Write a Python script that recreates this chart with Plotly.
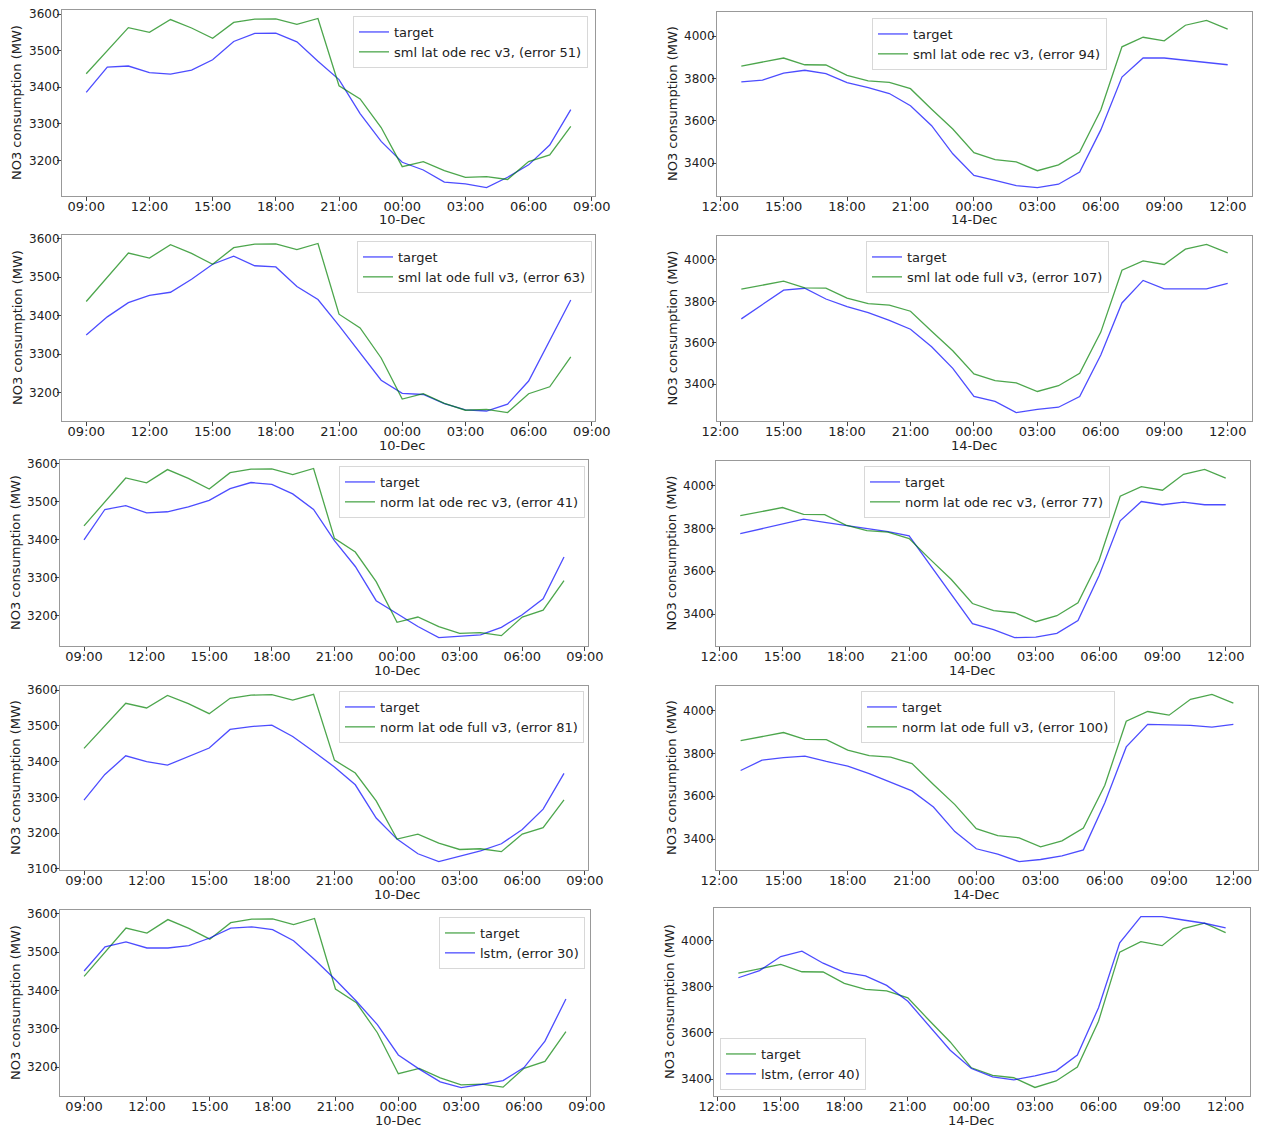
import pandas as pd
import plotly.graph_objects as go

W, H = 1261, 1130

# Hourly windows shown in the two columns
left_times = pd.date_range("2018-12-09 09:00", periods=24, freq="h")
right_times = pd.date_range("2018-12-13 13:00", periods=24, freq="h")

left_tickvals = pd.date_range("2018-12-09 09:00", "2018-12-10 09:00", freq="3h")
left_ticktext = ["09:00", "12:00", "15:00", "18:00", "21:00",
                 "00:00", "03:00", "06:00", "09:00"]
right_tickvals = pd.date_range("2018-12-13 12:00", "2018-12-14 12:00", freq="3h")
right_ticktext = ["12:00", "15:00", "18:00", "21:00",
                  "00:00", "03:00", "06:00", "09:00", "12:00"]
left_day = (pd.Timestamp("2018-12-10 00:00"), "10-Dec")
right_day = (pd.Timestamp("2018-12-14 00:00"), "14-Dec")
y_title = "NO3 consumption (MW)"

# Green series (same in every panel of a column)
green_left = [3437, 3500, 3563, 3550, 3585, 3562, 3534, 3577, 3586, 3587, 3572, 3588,
              3404, 3368, 3290, 3183, 3197, 3172, 3154, 3156, 3148, 3197, 3215, 3293]
green_right = [3859, 3878, 3897, 3865, 3864, 3815, 3789, 3782, 3752, 3655, 3561, 3449,
               3416, 3406, 3364, 3392, 3452, 3651, 3950, 3995, 3978, 4052, 4075, 4034]

# Blue series, one per panel
sml_rec_left = [3386, 3455, 3458, 3440, 3436, 3447, 3475, 3525, 3547, 3548, 3524, 3471,
                3421, 3328, 3252, 3195, 3174, 3141, 3136, 3126, 3154, 3188, 3242, 3339]
sml_rec_right = [3784, 3792, 3825, 3839, 3823, 3781, 3757, 3729, 3671, 3577, 3444, 3342,
                 3318, 3293, 3284, 3300, 3358, 3557, 3807, 3897, 3897, 3887, 3875, 3865]
sml_full_left = [3350, 3397, 3434, 3453, 3461, 3495, 3534, 3555, 3530, 3527, 3476, 3442,
                 3374, 3303, 3232, 3198, 3195, 3171, 3155, 3152, 3170, 3230, 3335, 3441]
sml_full_right = [3715, 3783, 3854, 3863, 3811, 3774, 3745, 3708, 3665, 3580, 3476, 3340,
                  3316, 3262, 3278, 3288, 3340, 3540, 3792, 3901, 3860, 3860, 3860, 3887]
norm_rec_left = [3400, 3480, 3490, 3471, 3474, 3487, 3504, 3535, 3551, 3546, 3521, 3480,
                 3398, 3330, 3240, 3205, 3172, 3143, 3146, 3150, 3170, 3203, 3245, 3355]
norm_rec_right = [3775, 3798, 3822, 3843, 3828, 3813, 3800, 3785, 3765, 3630, 3495, 3355,
                  3327, 3290, 3292, 3310, 3370, 3580, 3835, 3925, 3910, 3922, 3910, 3910]
norm_full_left = [3292, 3364, 3416, 3400, 3390, 3413, 3438, 3490, 3498, 3502, 3470, 3428,
                  3385, 3335, 3242, 3183, 3142, 3120, 3136, 3150, 3170, 3210, 3267, 3367]
norm_full_right = [3720, 3768, 3780, 3787, 3762, 3740, 3705, 3665, 3625, 3550, 3435, 3355,
                   3330, 3295, 3305, 3322, 3350, 3570, 3830, 3935, 3932, 3930, 3922, 3935]
lstm_left = [3451, 3514, 3527, 3511, 3511, 3517, 3537, 3563, 3566, 3559, 3530, 3481,
             3428, 3372, 3311, 3232, 3195, 3162, 3147, 3155, 3165, 3199, 3268, 3378]
lstm_right = [3839, 3870, 3931, 3954, 3902, 3862, 3847, 3806, 3737, 3629, 3525, 3446,
              3410, 3397, 3414, 3436, 3504, 3709, 3990, 4104, 4104, 4089, 4075, 4055]

BLUE = "rgba(0,0,255,0.7)"
GREEN = "rgba(0,128,0,0.7)"
FONT = "DejaVu Sans"
TXT = "#222"

# (side, blue series, legend entries in order, plot box px, legend anchor px)
panels = [
    ("L", sml_rec_left, [("b", "target"), ("g", "sml lat ode rec v3, (error 51)")],
     (62, 10, 595, 196), (588, 16, "right")),
    ("R", sml_rec_right, [("b", "target"), ("g", "sml lat ode rec v3, (error 94)")],
     (717, 12, 1252, 196), (872, 18, "left")),
    ("L", sml_full_left, [("b", "target"), ("g", "sml lat ode full v3, (error 63)")],
     (62, 235, 595, 421), (592, 241, "right")),
    ("R", sml_full_right, [("b", "target"), ("g", "sml lat ode full v3, (error 107)")],
     (717, 236, 1252, 421), (866, 241, "left")),
    ("L", norm_rec_left, [("b", "target"), ("g", "norm lat ode rec v3, (error 41)")],
     (60, 460, 588, 646), (585, 466, "right")),
    ("R", norm_rec_right, [("b", "target"), ("g", "norm lat ode rec v3, (error 77)")],
     (716, 461, 1250, 646), (864, 466, "left")),
    ("L", norm_full_left, [("b", "target"), ("g", "norm lat ode full v3, (error 81)")],
     (60, 686, 588, 870), (584, 691, "right")),
    ("R", norm_full_right, [("b", "target"), ("g", "norm lat ode full v3, (error 100)")],
     (716, 686, 1258, 870), (861, 691, "left")),
    ("L", lstm_left, [("g", "target"), ("b", "lstm, (error 30)")],
     (60, 910, 590, 1096), (585, 917, "right")),
    ("R", lstm_right, [("g", "target"), ("b", "lstm, (error 40)")],
     (714, 908, 1250, 1096), (720, 1090, "left_bottom")),
]

fig = go.Figure()
layout = dict(
    width=W, height=H, margin=dict(l=0, r=0, t=0, b=0, autoexpand=False),
    paper_bgcolor="white", plot_bgcolor="white",
    font=dict(family=FONT, size=13, color=TXT),
    showlegend=True,
)
annotations = []

for i, (side, blue, entries, box, leg) in enumerate(panels, start=1):
    times = left_times if side == "L" else right_times
    green = green_left if side == "L" else green_right
    xs = "x" if i == 1 else f"x{i}"
    ys = "y" if i == 1 else f"y{i}"
    lg = "legend" if i == 1 else f"legend{i}"
    for kind, name in entries:
        vals = blue if kind == "b" else green
        color = BLUE if kind == "b" else GREEN
        fig.add_trace(go.Scatter(
            x=times, y=vals, mode="lines", name=name,
            line=dict(color=color, width=1.3),
            xaxis=xs, yaxis=ys, legend=lg,
        ))

    # autoscale with 5% padding on both axes
    lo, hi = min(min(blue), min(green)), max(max(blue), max(green))
    pad = 0.05 * (hi - lo)
    span = times[-1] - times[0]
    xr = [times[0] - 0.05 * span, times[-1] + 0.05 * span]

    x0, y0, x1, y1 = box
    xkey = "xaxis" if i == 1 else f"xaxis{i}"
    ykey = "yaxis" if i == 1 else f"yaxis{i}"
    layout[xkey] = dict(
        domain=[x0 / W, x1 / W], anchor=ys, type="date", range=xr,
        tickmode="array",
        tickvals=list(left_tickvals if side == "L" else right_tickvals),
        ticktext=left_ticktext if side == "L" else right_ticktext,
        ticks="outside", ticklen=4, tickcolor="#444",
        ticklabelstandoff=-6,
        showline=True, linecolor="#999", linewidth=1, mirror=True,
        showgrid=False, zeroline=False, automargin=False,
        tickfont=dict(family=FONT, size=13, color=TXT),
    )
    layout[ykey] = dict(
        domain=[1 - y1 / H, 1 - y0 / H], anchor=xs,
        range=[lo - pad, hi + pad], dtick=100 if side == "L" else 200,
        ticks="outside", ticklen=4, tickcolor="#444",
        ticklabelstandoff=-5,
        showline=True, linecolor="#999", linewidth=1, mirror=True,
        showgrid=False, zeroline=False, automargin=False,
        tickfont=dict(family=FONT, size=12, color=TXT),
    )

    # date label under the midnight tick
    day_ts, day_txt = left_day if side == "L" else right_day
    annotations.append(dict(
        text=day_txt, x=day_ts, xref=xs, y=1 - (y1 + 24) / H, yref="paper",
        showarrow=False, xanchor="center", yanchor="middle",
        font=dict(family=FONT, size=13, color=TXT),
    ))
    # vertical axis title
    annotations.append(dict(
        text=y_title, textangle=-90,
        x=(x0 - 45) / W, xref="paper",
        y=1 - (y0 + y1) / 2 / H, yref="paper",
        showarrow=False, xanchor="center", yanchor="middle",
        font=dict(family=FONT, size=13, color=TXT),
    ))

    lx, ly, anchor = leg
    legend_cfg = dict(
        x=lx / W, xanchor="right" if anchor == "right" else "left",
        bgcolor="rgba(255,255,255,0.85)", bordercolor="#d8d8d8", borderwidth=1,
        font=dict(family=FONT, size=13, color=TXT),
        tracegroupgap=0, itemwidth=30,
    )
    if anchor == "left_bottom":
        legend_cfg.update(y=1 - ly / H, yanchor="bottom")
    else:
        legend_cfg.update(y=1 - ly / H, yanchor="top")
    layout[lg] = legend_cfg

layout["annotations"] = annotations
fig.update_layout(**layout)
fig.write_html("out.html")
